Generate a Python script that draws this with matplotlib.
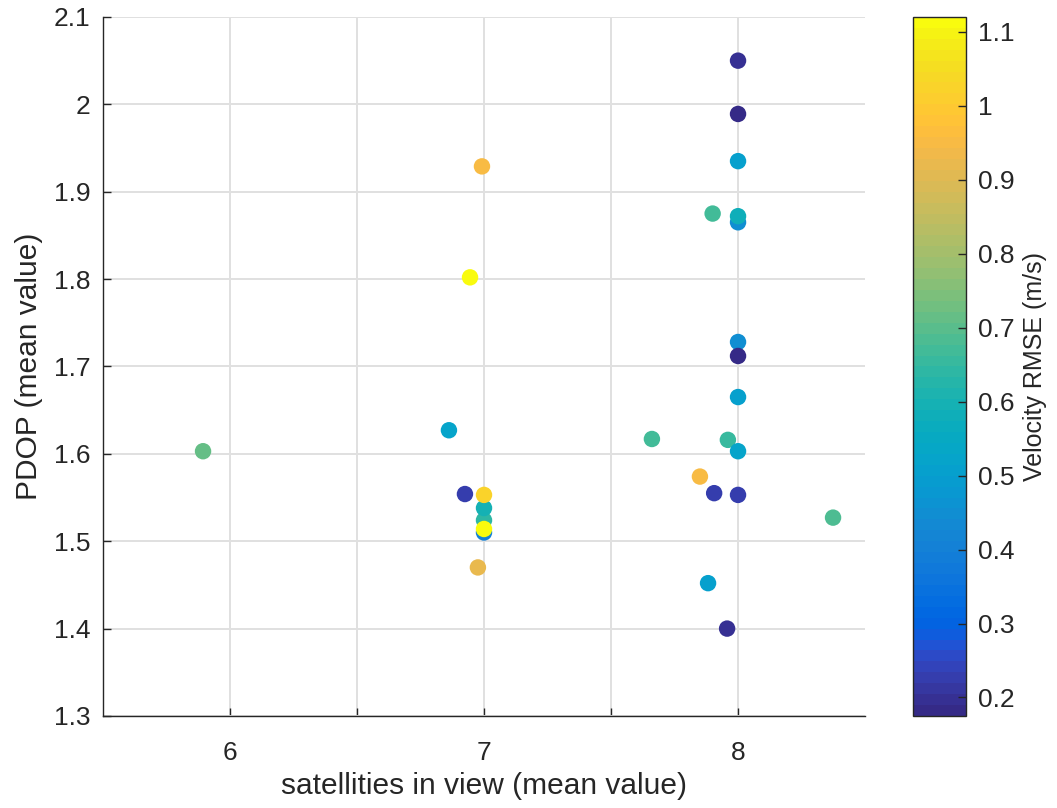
import numpy as np
import matplotlib
matplotlib.use("Agg")
import matplotlib.pyplot as plt
from matplotlib.colors import ListedColormap

# MATLAB parula (64 levels)
parula_rgb = [
    [0.2081, 0.1663, 0.5292], [0.2116, 0.1898, 0.5777], [0.2123, 0.2138, 0.6270], [0.2081, 0.2386, 0.6771],
    [0.1959, 0.2645, 0.7279], [0.1707, 0.2919, 0.7792], [0.1253, 0.3242, 0.8303], [0.0591, 0.3598, 0.8683],
    [0.0117, 0.3875, 0.8820], [0.0060, 0.4086, 0.8828], [0.0165, 0.4266, 0.8786], [0.0329, 0.4430, 0.8720],
    [0.0498, 0.4586, 0.8641], [0.0629, 0.4737, 0.8554], [0.0723, 0.4887, 0.8467], [0.0779, 0.5040, 0.8384],
    [0.0793, 0.5200, 0.8312], [0.0749, 0.5375, 0.8263], [0.0641, 0.5570, 0.8240], [0.0488, 0.5772, 0.8228],
    [0.0343, 0.5966, 0.8199], [0.0265, 0.6137, 0.8135], [0.0239, 0.6287, 0.8038], [0.0231, 0.6418, 0.7913],
    [0.0228, 0.6535, 0.7768], [0.0267, 0.6642, 0.7607], [0.0384, 0.6743, 0.7436], [0.0590, 0.6838, 0.7254],
    [0.0843, 0.6928, 0.7062], [0.1133, 0.7015, 0.6859], [0.1453, 0.7098, 0.6646], [0.1801, 0.7177, 0.6424],
    [0.2178, 0.7250, 0.6193], [0.2586, 0.7317, 0.5954], [0.3022, 0.7376, 0.5712], [0.3482, 0.7424, 0.5473],
    [0.3953, 0.7459, 0.5244], [0.4420, 0.7481, 0.5033], [0.4871, 0.7491, 0.4840], [0.5300, 0.7491, 0.4661],
    [0.5709, 0.7485, 0.4494], [0.6099, 0.7473, 0.4337], [0.6473, 0.7456, 0.4188], [0.6834, 0.7435, 0.4044],
    [0.7184, 0.7411, 0.3905], [0.7525, 0.7384, 0.3768], [0.7858, 0.7356, 0.3633], [0.8185, 0.7327, 0.3498],
    [0.8507, 0.7299, 0.3360], [0.8824, 0.7274, 0.3217], [0.9139, 0.7258, 0.3063], [0.9450, 0.7261, 0.2886],
    [0.9739, 0.7314, 0.2666], [0.9938, 0.7455, 0.2403], [0.9990, 0.7653, 0.2164], [0.9955, 0.7861, 0.1967],
    [0.9880, 0.8066, 0.1794], [0.9789, 0.8271, 0.1633], [0.9697, 0.8481, 0.1475], [0.9626, 0.8705, 0.1309],
    [0.9589, 0.8949, 0.1132], [0.9598, 0.9218, 0.0948], [0.9661, 0.9514, 0.0755], [0.9763, 0.9831, 0.0538],
]
parula = ListedColormap(parula_rgb, name="parula")

# data (drawing order matters for overlaps)
sats = [5.894, 6.862, 6.925, 6.992, 6.945, 6.976,
        7.0, 7.0, 7.0, 7.0, 7.0,
        8.0, 8.0, 8.0, 7.90, 8.0, 8.0,
        8.0, 8.0, 8.0, 7.661, 7.96, 8.0,
        7.85, 7.906, 8.0, 8.374, 7.882, 7.957]
pdop = [1.603, 1.627, 1.554, 1.929, 1.802, 1.470,
        1.510, 1.524, 1.538, 1.553, 1.514,
        2.050, 1.989, 1.935, 1.875, 1.865, 1.872,
        1.728, 1.712, 1.665, 1.617, 1.616, 1.603,
        1.574, 1.555, 1.553, 1.527, 1.452, 1.400]
rmse = [0.72, 0.52, 0.22, 0.95, 1.12, 0.92,
        0.40, 0.64, 0.60, 1.02, 1.12,
        0.20, 0.18, 0.50, 0.67, 0.45, 0.58,
        0.45, 0.175, 0.51, 0.67, 0.66, 0.52,
        0.95, 0.22, 0.22, 0.68, 0.50, 0.19]

x_ticks = [6, 6.5, 7, 7.5, 8]
x_labels = ["6", "", "7", "", "8"]
y_ticks = [1.3, 1.4, 1.5, 1.6, 1.7, 1.8, 1.9, 2.0, 2.1]
y_labels = ["1.3", "1.4", "1.5", "1.6", "1.7", "1.8", "1.9", "2", "2.1"]
cb_ticks = [0.2, 0.3, 0.4, 0.5, 0.6, 0.7, 0.8, 0.9, 1.0, 1.1]
cb_labels = ["0.2", "0.3", "0.4", "0.5", "0.6", "0.7", "0.8", "0.9", "1", "1.1"]

plt.rcParams['font.family'] = ['Liberation Sans', 'DejaVu Sans']
text_col = (0.15, 0.15, 0.15)

fig = plt.figure(figsize=(10.57, 8.08), dpi=100)
ax = fig.add_axes([0.0974, 0.1139, 0.7210, 0.8651])
cax = fig.add_axes([0.8638, 0.1139, 0.0501, 0.8651])

sc = ax.scatter(sats, pdop, c=rmse, cmap=parula, s=140, linewidths=0,
                vmin=min(rmse), vmax=max(rmse), zorder=3)

ax.set_xlim(5.5, 8.5)
ax.set_ylim(1.3, 2.1)
ax.set_xticks(x_ticks)
ax.set_xticklabels(x_labels)
ax.set_yticks(y_ticks)
ax.set_yticklabels(y_labels)
ax.grid(True, color=(0.88, 0.88, 0.88), linewidth=1.4)
ax.set_axisbelow(True)
for side in ['top', 'right']:
    ax.spines[side].set_visible(False)
for side in ['left', 'bottom']:
    ax.spines[side].set_color(text_col)
    ax.spines[side].set_linewidth(1.0)
ax.tick_params(direction='in', length=6, width=1.0, colors=text_col, labelsize=19)
ax.tick_params(axis='y', pad=9)
ax.tick_params(axis='x', pad=18)
ax.set_xlabel("satellities in view (mean value)", fontsize=21.5, color=text_col, labelpad=5)
ax.set_ylabel("PDOP (mean value)", fontsize=21.5, color=text_col, labelpad=8)

cb = fig.colorbar(sc, cax=cax)
cb.set_ticks(cb_ticks)
cb.set_ticklabels(cb_labels)
cb.outline.set_edgecolor(text_col)
cb.outline.set_linewidth(1.0)
cax.tick_params(direction='in', length=6, width=1.0, colors=text_col,
                labelsize=19, pad=9)
cb.set_label("Velocity RMSE (m/s)", fontsize=18, color=text_col, labelpad=6)

fig.savefig("out.png", dpi=100)
